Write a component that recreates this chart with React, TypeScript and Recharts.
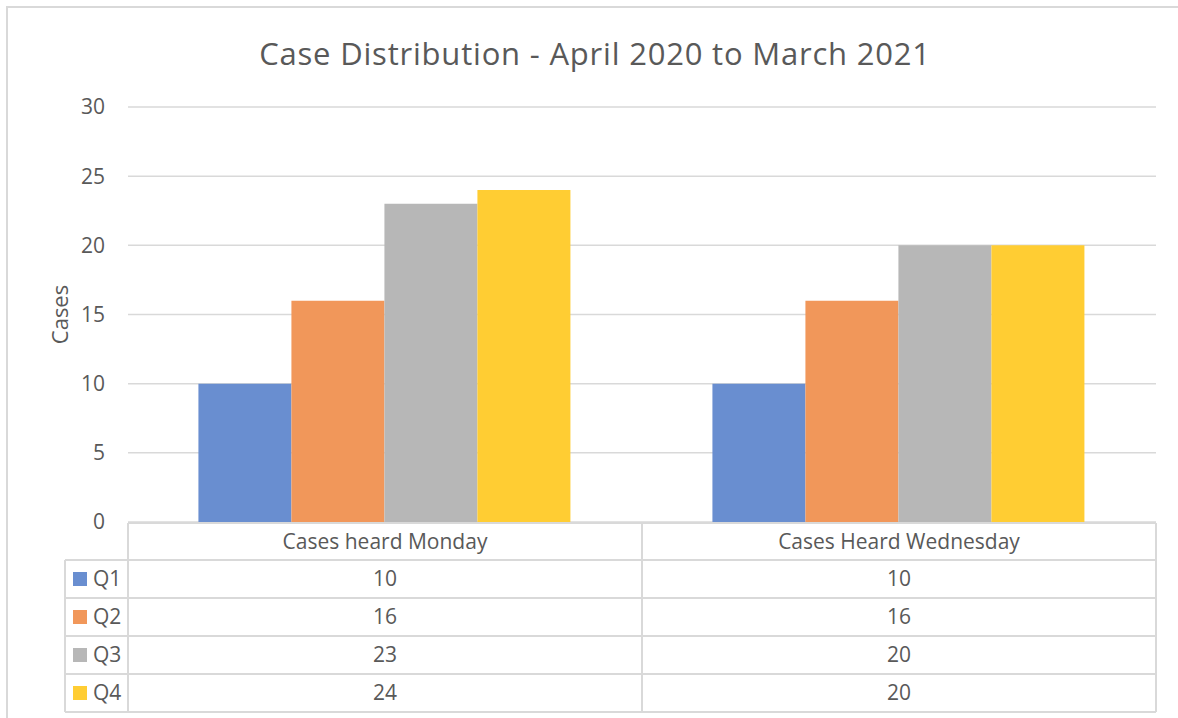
import React from 'react';
import { BarChart, Bar, XAxis, YAxis, CartesianGrid } from 'recharts';

const categories = ['Cases heard Monday', 'Cases Heard Wednesday'];
const seriesNames = ['Q1', 'Q2', 'Q3', 'Q4'];
const q1Values = [10, 10];
const q2Values = [16, 16];
const q3Values = [23, 20];
const q4Values = [24, 20];
const yTicks = [0, 5, 10, 15, 20, 25, 30];
const title = 'Case Distribution - April 2020 to March 2021';
const yLabel = 'Cases';

const seriesValues = [q1Values, q2Values, q3Values, q4Values];
const colors = ['#698ED0', '#F1975A', '#B7B7B7', '#FFCD33'];

const data = categories.map((c, i) => {
  const row: any = { name: c };
  seriesNames.forEach((s, k) => {
    row[s] = seriesValues[k][i];
  });
  return row;
});

const W = 1178;
const H = 718;
const XH = 196;
const M = { top: 107, right: 22, bottom: 0, left: 68 };
const YW = 60;
const PLOT_W = W - M.left - YW - M.right;
const BAND = PLOT_W / categories.length;
const TEXT = '#595959';
const LINE = '#D9D9D9';
const FONT = "'Open Sans', 'Noto Sans', sans-serif";
const FS = 21;
const HEADER_H = 37;
const ROW_H = 38;
const LEGEND_LEFT = 65;

const TableTick = (props: any) => {
  const { x, y, payload, index } = props;
  const left = x - BAND / 2;
  const right = x + BAND / 2;
  const top = y + 1;
  const bottom = top + HEADER_H + ROW_H * seriesNames.length;
  const els: any[] = [];
  els.push(<line key="ht" x1={left} x2={right} y1={top} y2={top} stroke={LINE} strokeWidth={2} />);
  for (let r = 0; r <= seriesNames.length; r++) {
    const yy = top + HEADER_H + ROW_H * r;
    els.push(<line key={'h' + r} x1={left} x2={right} y1={yy} y2={yy} stroke={LINE} strokeWidth={2} />);
  }
  els.push(<line key="vl" x1={left} x2={left} y1={top} y2={bottom} stroke={LINE} strokeWidth={2} />);
  if (index === categories.length - 1) {
    els.push(<line key="vr" x1={right} x2={right} y1={top} y2={bottom} stroke={LINE} strokeWidth={2} />);
  }
  els.push(
    <text key="hdr" x={x} y={top + HEADER_H / 2} dy="0.35em" textAnchor="middle" fill={TEXT} fontSize={FS} fontFamily={FONT}>
      {payload.value}
    </text>
  );
  seriesNames.forEach((s, k) => {
    const cy = top + HEADER_H + ROW_H * k + ROW_H / 2;
    els.push(
      <text key={'v' + k} x={x} y={cy} dy="0.35em" textAnchor="middle" fill={TEXT} fontSize={FS} fontFamily={FONT}>
        {seriesValues[k][index]}
      </text>
    );
  });
  if (index === 0) {
    const lt = top + HEADER_H;
    for (let r = 0; r <= seriesNames.length; r++) {
      const yy = lt + ROW_H * r;
      els.push(<line key={'lh' + r} x1={LEGEND_LEFT} x2={left} y1={yy} y2={yy} stroke={LINE} strokeWidth={2} />);
    }
    els.push(<line key="lv" x1={LEGEND_LEFT} x2={LEGEND_LEFT} y1={lt} y2={bottom} stroke={LINE} strokeWidth={2} />);
    seriesNames.forEach((s, k) => {
      const cy = lt + ROW_H * k + ROW_H / 2;
      els.push(<rect key={'sq' + k} x={LEGEND_LEFT + 8} y={cy - 7} width={14} height={14} fill={colors[k]} />);
      els.push(
        <text key={'ln' + k} x={LEGEND_LEFT + 28} y={cy} dy="0.35em" textAnchor="start" fill={TEXT} fontSize={FS} fontFamily={FONT}>
          {s}
        </text>
      );
    });
  }
  return <g>{els}</g>;
};

const YLabel = (props: any) => {
  const vb = props.viewBox || {};
  const cy = (vb.y || 0) + (vb.height || 0) / 2;
  const cx = 60;
  return (
    <text x={cx} y={cy} textAnchor="middle" dy="0.35em" transform={`rotate(-90 ${cx} ${cy})`} fill={TEXT} fontSize={22} fontFamily={FONT}>
      {yLabel}
    </text>
  );
};

export default function App() {
  return (
    <div style={{ position: 'absolute', left: 0, top: 0, width: W, height: H, background: '#fff' }}>
      <BarChart width={W} height={H} data={data} margin={M} barCategoryGap="13.7%" barGap={0}>
        <rect x={7} y={7} width={1300} height={900} fill="none" stroke={LINE} strokeWidth={2} />
        <text x={595} y={65} textAnchor="middle" fill={TEXT} fontSize={31} letterSpacing={0.8} fontFamily={FONT}>
          {title}
        </text>
        <CartesianGrid vertical={false} stroke={LINE} strokeWidth={1.5} />
        <YAxis
          width={YW}
          domain={[0, 30]}
          ticks={yTicks}
          axisLine={false}
          tickLine={false}
          tickSize={0}
          tickMargin={23}
          tick={{ fill: TEXT, fontSize: FS, fontFamily: FONT }}
          label={<YLabel />}
        />
        <XAxis
          dataKey="name"
          height={XH}
          axisLine={false}
          tickLine={false}
          tickSize={0}
          tickMargin={0}
          interval={0}
          tick={<TableTick />}
        />
        {seriesNames.map((s, k) => (
          <Bar key={s} dataKey={s} fill={colors[k]} isAnimationActive={false} />
        ))}
      </BarChart>
    </div>
  );
}
